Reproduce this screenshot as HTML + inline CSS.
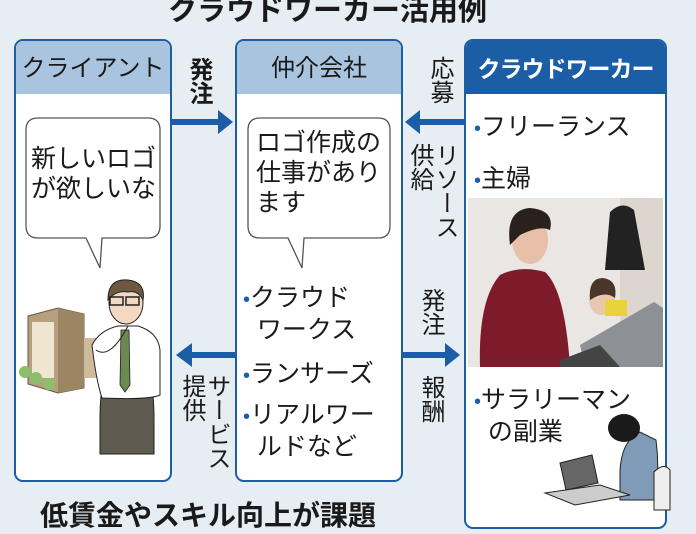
<!DOCTYPE html>
<html><head><meta charset="utf-8"><style>
*{margin:0;padding:0;box-sizing:border-box}
body{width:696px;height:522px;overflow:hidden;background:#e6edf3;font-family:"Liberation Sans","Noto Sans CJK JP",sans-serif;color:#1a1a1a;position:relative}
.a{position:absolute;white-space:nowrap}
.box{position:absolute;border:2px solid #1b5ea6;border-radius:9px;background:#fff;overflow:hidden}
.hd{position:absolute;left:0;right:0;top:0;height:53px;background:#a9c4df;font-size:24px;text-align:center;line-height:56px}
.v{position:absolute;writing-mode:vertical-rl;font-size:24px;line-height:25px;letter-spacing:0}
.t{font-size:25px;line-height:30px}
.dot{color:#1b5ea6;font-size:20px}
</style></head><body>
<div class="a" style="left:168px;top:-13px;font-size:29px;font-weight:bold;">クラウドワーカー活用例</div>

<div class="box" style="left:14px;top:39px;width:158px;height:443px;"><div class="hd">クライアント</div></div>
<div class="box" style="left:235px;top:39px;width:168px;height:443px;"><div class="hd">仲介会社</div></div>
<div class="box" style="left:464px;top:39px;width:203px;height:490px;"><div class="hd" style="background:#1b5ea6;color:#fff;font-weight:bold;font-size:23px;letter-spacing:-1px;white-space:nowrap;">クラウドワーカー</div></div>

<svg class="a" style="left:0;top:0" width="696" height="522">
<path d="M38 118 H148 Q160 118 160 130 V226 Q160 238 148 238 H102 L100 268 L86 238 H38 Q26 238 26 226 V130 Q26 118 38 118Z" fill="#fff" stroke="#555" stroke-width="1.3"/>
<path d="M260 118 H378 Q390 118 390 130 V226 Q390 238 378 238 H304 L302 268 L288 238 H260 Q248 238 248 226 V130 Q248 118 260 118Z" fill="#fff" stroke="#555" stroke-width="1.3"/>
<g fill="#1b5ea6">
<rect x="172" y="119" width="48" height="6"/><polygon points="218,110 233,122 218,134"/>
<rect x="418" y="119" width="47" height="6"/><polygon points="420,110 405,122 420,134"/>
<rect x="403" y="352" width="44" height="6"/><polygon points="445,343 460,355 445,367"/>
<rect x="190" y="352" width="46" height="6"/><polygon points="192,343 176,355 192,367"/>
</g>
<polygon points="28,316 58,308 84,314 84,388 58,393 28,384" fill="#b59f7e" stroke="#6b5a40"/>
<polygon points="58,308 84,314 84,388 58,393" fill="#9c8563"/>
<g fill="#efe6d2"><rect x="32" y="322" width="22" height="56"/></g>
<rect x="84" y="338" width="14" height="40" fill="#cdbb9c"/>
<circle cx="25" cy="372" r="6" fill="#8cbf6a"/><circle cx="36" cy="378" r="6" fill="#8cbf6a"/><circle cx="49" cy="384" r="6" fill="#8cbf6a"/>
<path d="M100 454 V420 Q100 400 102 390 H152 Q154 400 154 420 V454 Z" fill="#5f5a50" stroke="#222"/>
<path d="M92 345 Q100 330 118 326 H138 Q158 332 160 350 V395 Q150 400 102 398 Q96 380 92 345Z" fill="#fff" stroke="#222"/>
<polygon points="121,330 129,330 130,385 125,392 120,385" fill="#6b8a4f" stroke="#222" stroke-width=".8"/>
<ellipse cx="126" cy="303" rx="17" ry="21" fill="#f3d9c4" stroke="#222"/>
<path d="M108 300 Q108 278 128 280 Q146 282 143 300 Q138 290 128 292 Q116 290 108 300Z" fill="#6b5a3f" stroke="#222"/>
<rect x="110" y="297" width="13" height="8" fill="none" stroke="#222" stroke-width="1.5"/><rect x="126" y="297" width="13" height="8" fill="none" stroke="#222" stroke-width="1.5"/>
<path d="M96 350 Q110 360 128 326" fill="none" stroke="#222"/>
<rect x="468" y="198" width="195" height="169" fill="#e9e6e3"/>
<rect x="620" y="198" width="43" height="169" fill="#ddd6cf"/>
<path d="M610 212 Q622 200 634 210 L645 270 H605Z" fill="#222"/>
<path d="M480 367 Q478 300 500 275 Q520 265 545 272 Q565 290 570 367Z" fill="#7d1b2b"/>
<ellipse cx="530" cy="240" rx="18" ry="24" fill="#e8bfa8"/>
<path d="M510 245 Q505 210 530 208 Q555 210 550 230 Q540 225 520 235 Z" fill="#2a211d"/>
<ellipse cx="602" cy="300" rx="13" ry="15" fill="#e8c6b0"/>
<path d="M590 300 Q588 278 603 278 Q618 280 615 298 Q605 290 590 300Z" fill="#4a3628"/>
<rect x="605" y="300" width="22" height="16" fill="#e9d23b"/>
<polygon points="580,345 654,302 663,308 663,367 585,367" fill="#8d9094"/>
<polygon points="560,360 600,345 620,367 560,367" fill="#444"/>
<path d="M620 470 Q622 440 640 432 L656 440 Q660 470 655 500 H620Z" fill="#7f9bb8" stroke="#222"/>
<ellipse cx="624" cy="428" rx="16" ry="14" fill="#1a1a1a"/>
<path d="M654 472 Q664 462 670 470 V510 H654Z" fill="#eee" stroke="#222"/>
<polygon points="560,463 592,455 598,483 566,490" fill="#666" stroke="#222"/>
<polygon points="545,493 600,485 630,495 575,505" fill="#ccc" stroke="#222"/>
</svg>

<div class="a t" style="left:31px;top:144px;">新しいロゴ<br>が欲しいな</div>
<div class="a t" style="left:256px;top:128px;">ロゴ作成の<br>仕事があり<br>ます</div>

<div class="a t" style="left:243px;top:283px;"><span class="dot">•</span>クラウド<br>&nbsp;&nbsp;ワークス</div>
<div class="a t" style="left:243px;top:359px;"><span class="dot">•</span>ランサーズ</div>
<div class="a t" style="left:243px;top:400px;"><span class="dot">•</span>リアルワー<br>&nbsp;&nbsp;ルドなど</div>

<div class="a t" style="left:474px;top:112px;"><span class="dot">•</span>フリーランス</div>
<div class="a t" style="left:474px;top:164px;"><span class="dot">•</span>主婦</div>
<div class="a t" style="left:474px;top:385px;"><span class="dot">•</span>サラリーマン<br>&nbsp;&nbsp;の副業</div>

<div class="v" style="left:186px;top:57px;font-weight:bold;">発注</div>
<div class="v" style="left:427px;top:56px;">応募</div>
<div class="v" style="left:407px;top:143px;">供給</div>
<div class="v" style="left:432px;top:143px;">リソース</div>
<div class="v" style="left:418px;top:288px;">発注</div>
<div class="v" style="left:418px;top:375px;">報酬</div>
<div class="v" style="left:179px;top:374px;">提供</div>
<div class="v" style="left:204px;top:374px;">サービス</div>

<div class="a" style="left:40px;top:494px;font-size:28px;font-weight:bold;">低賃金やスキル向上が課題</div>
</body></html>
